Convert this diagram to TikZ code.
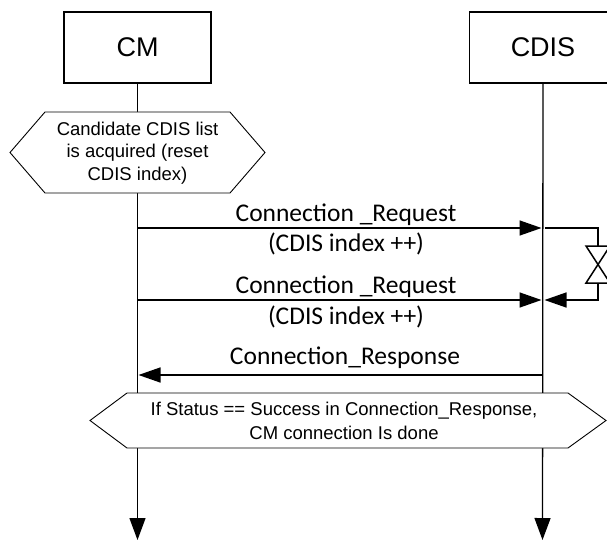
\documentclass[tikz,border=0pt]{standalone}
\usepackage{fontspec}
\setmainfont{Liberation Sans}
\newfontfamily\lblfont{Carlito}
\usetikzlibrary{arrows.meta}
\tikzset{
  actor/.style={draw, line width=1.3pt, minimum width=147pt, minimum height=71pt, inner sep=0pt, font=\fontsize{27}{31}\selectfont},
  life/.style={line width=1.3pt},
  lifearrow/.style={line width=1.3pt, -{Triangle[length=22pt,width=16pt]}},
  msg/.style={line width=1.5pt, -{Triangle[length=22pt,width=15pt]}},
  hexline/.style={draw, line width=0.9pt, fill=white},
  hextext/.style={align=center, inner sep=0pt, font=\fontsize{18.5}{22.5}\selectfont},
  lbl/.style={anchor=base, inner sep=0pt, font=\lblfont\fontsize{25.5}{29}\selectfont},
}
\begin{document}
\begin{tikzpicture}[x=1pt,y=-1pt]
\clip (0,0) rectangle (607,540);
\fill[white] (0,0) rectangle (607,540);

% actors
\node[actor] (cm) at (137.5,47.5) {CM};
\node[actor] (cdis) at (543,47.5) {CDIS};

% lifelines
\coordinate (cmend) at (137.5,540);
\coordinate (cdisend) at (542.5,540);
\draw[lifearrow] (cm.south) -- (cmend);
\draw[lifearrow] (cdis.south) -- (cdisend);

% hexagon 1
\draw[hexline] (10,152.5) -- (45,112) -- (230,112) -- (265,152.5) -- (230,193) -- (45,193) -- cycle;
\node[hextext] (h1) at (137.5,153) {Candidate CDIS list\\is acquired (reset\\CDIS index)};

% message 1
\coordinate (m1s) at (137.5,228);
\coordinate (m1e) at (541.5,228);
\draw[msg] (m1s) -- (m1e);
\node[lbl] (l1a) at (346,221) {Connection \_Request};
\node[lbl] (l1b) at (346,251) {(CDIS index ++)};

% self loop with timer
\coordinate (ls) at (545,228);
\coordinate (lc1) at (598,228);
\coordinate (tt) at (598,246);
\coordinate (tb) at (598,283);
\coordinate (lc2) at (598,300);
\coordinate (le) at (544.5,300);
\draw[line width=1.5pt] (ls) -- (lc1) -- (tt);
\draw[line width=1.5pt] (586,246) -- (610,246) -- (586,283) -- (610,283) -- cycle;
\draw[msg] (tb) -- (lc2) -- (le);

% message 2
\coordinate (m2s) at (137.5,300);
\coordinate (m2e) at (541.5,300);
\draw[msg] (m2s) -- (m2e);
\node[lbl] (l2a) at (346,293) {Connection \_Request};
\node[lbl] (l2b) at (346,324) {(CDIS index ++)};

% message 3
\coordinate (m3s) at (542.5,375);
\coordinate (m3e) at (138.5,375);
\draw[msg] (m3s) -- (m3e);
\node[lbl] (l3) at (345,364) {Connection\_Response};

% hexagon 2
\draw[hexline] (90,420.5) -- (127,393) -- (568,393) -- (606,420.5) -- (568,448) -- (127,448) -- cycle;
\node[hextext, font=\fontsize{18.5}{24.5}\selectfont] (h2) at (344,421) {If Status == Success in Connection\_Response,\\CM connection Is done};
\end{tikzpicture}
\end{document}
